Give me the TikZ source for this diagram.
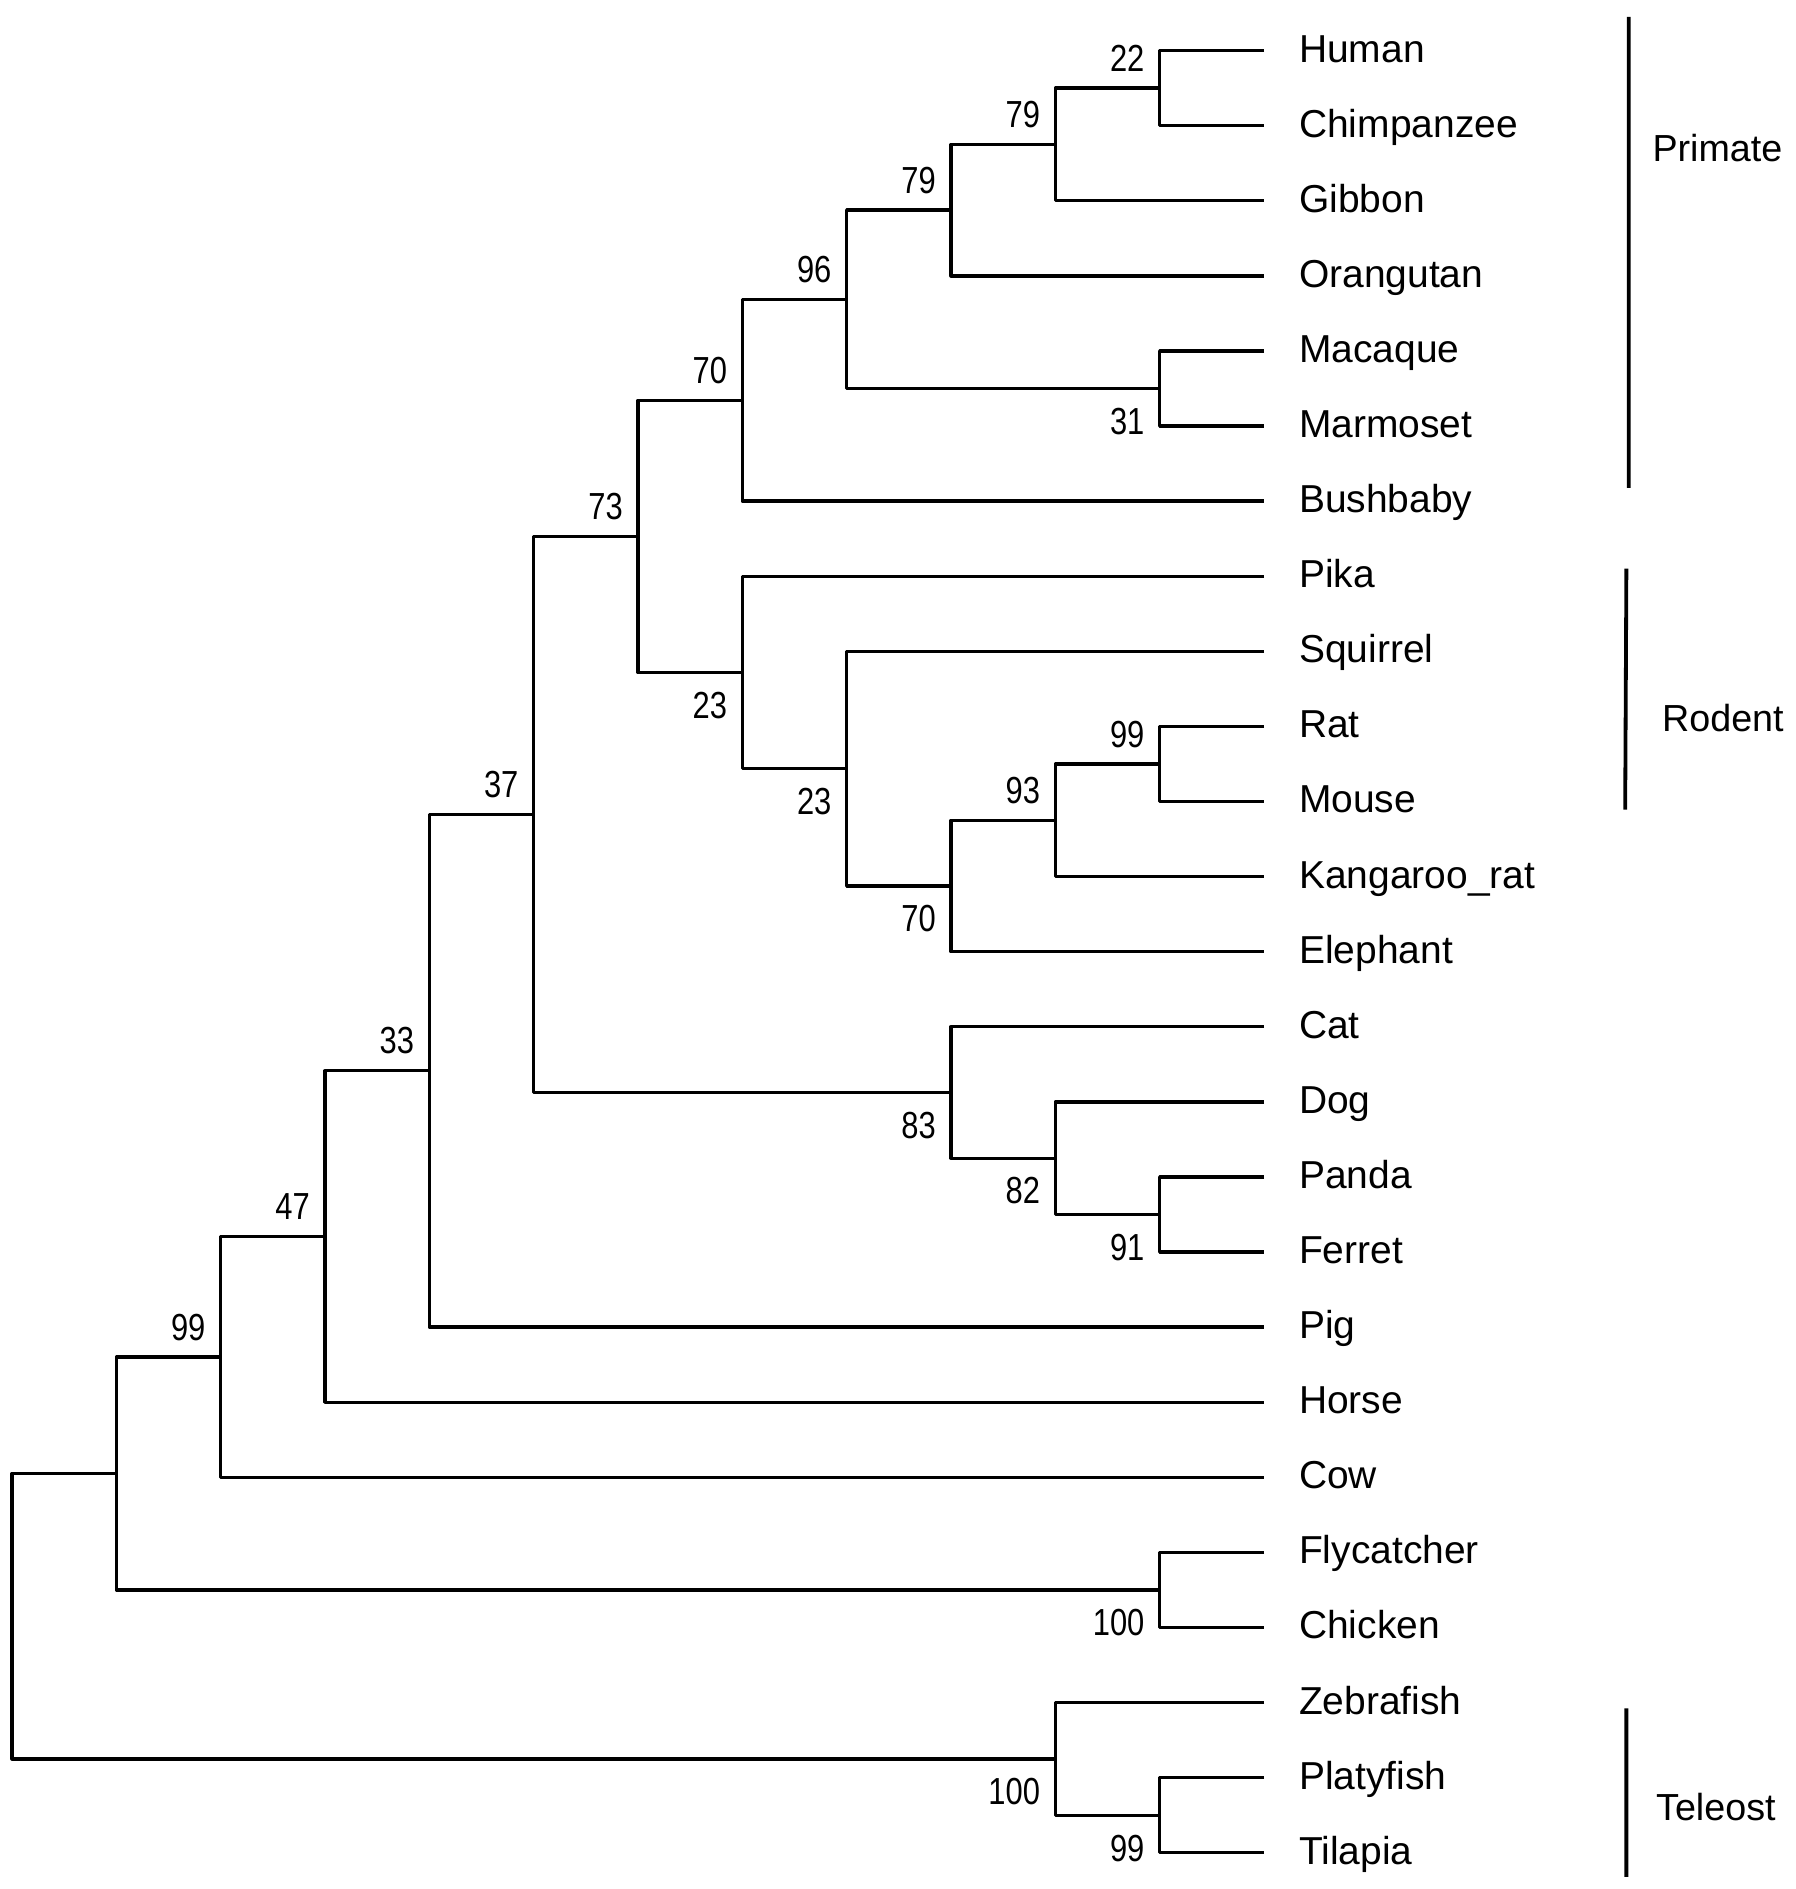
\documentclass[tikz,border=0pt]{standalone}
\usepackage{fontspec}
\setmainfont{Liberation Sans}
\newfontfamily\bootfont[FakeStretch=0.82]{Liberation Sans}
\usetikzlibrary{calc}
\begin{document}
\begin{tikzpicture}[line join=round,
  branch/.style={line width=0.8pt},
  bracket/.style={line width=0.9pt},
  taxon/.style={anchor=base west,inner sep=0pt,font=\fontsize{9.2}{11}\selectfont},
  boot/.style={anchor=base east,inner sep=0pt,font=\bootfont\fontsize{8.9}{10}\selectfont},
  group/.style={anchor=base west,inner sep=0pt,font=\fontsize{8.9}{11}\selectfont}]
	%==settings (1 unit = 100 px of the figure)
	\def\dx{0.866}
	\def\dy{0.6233}
	\def\xo{0.10}
	\def\yo{-0.42}
	\def\hi{.14}
	\def\lo{-.38}
	%==============
	\def\junc#1#2#3#4{\path ($(#3)!.5!(#4)$) coordinate (m#1);
		\coordinate (#1) at (x#2 |- m#1);
		\draw[branch] (#3) -| (#1) |- (#4);}
	\def\bs#1#2#3{\node[boot] (b#1) at ([shift={(-.12,#3)}]#1) {#2};}
	\useasboundingbox (0,0) rectangle (14.90,-15.68);
	\foreach \k in {0,...,12}{\coordinate (x\k) at ({\xo+\k*\dx},0);}
	\foreach \t [count=\i from 0] in {Human,Chimpanzee,Gibbon,Orangutan,Macaque,Marmoset,Bushbaby,Pika,Squirrel,Rat,Mouse,Kangaroo\_rat,Elephant,Cat,Dog,Panda,Ferret,Pig,Horse,Cow,Flycatcher,Chicken,Zebrafish,Platyfish,Tilapia}{
		\coordinate (l\i) at ({\xo+12*\dx},{\yo-\i*\dy});
		\node[taxon] (t\i) at ([xshift=.285cm,yshift=-.095cm]l\i) {\t};}
	\junc{hc}{11}{l0}{l1} \bs{hc}{22}{\hi}
	\junc{hcg}{10}{hc}{l2} \bs{hcg}{79}{\hi}
	\junc{ape}{9}{hcg}{l3} \bs{ape}{79}{\hi}
	\junc{mm}{11}{l4}{l5} \bs{mm}{31}{\lo}
	\junc{anth}{8}{ape}{mm} \bs{anth}{96}{\hi}
	\junc{prim}{7}{anth}{l6} \bs{prim}{70}{\hi}
	\junc{rm}{11}{l9}{l10} \bs{rm}{99}{\hi}
	\junc{rmk}{10}{rm}{l11} \bs{rmk}{93}{\hi}
	\junc{rmke}{9}{rmk}{l12} \bs{rmke}{70}{\lo}
	\junc{sq}{8}{l8}{rmke} \bs{sq}{23}{\lo}
	\junc{glir}{7}{l7}{sq} \bs{glir}{23}{\lo}
	\junc{euar}{6}{prim}{glir} \bs{euar}{73}{\hi}
	\junc{pf}{11}{l15}{l16} \bs{pf}{91}{\lo}
	\junc{dpf}{10}{l14}{pf} \bs{dpf}{82}{\lo}
	\junc{carn}{9}{l13}{dpf} \bs{carn}{83}{\lo}
	\junc{bor}{5}{euar}{carn} \bs{bor}{37}{\hi}
	\junc{pig}{4}{bor}{l17} \bs{pig}{33}{\hi}
	\junc{hor}{3}{pig}{l18} \bs{hor}{47}{\hi}
	\junc{mamm}{2}{hor}{l19} \bs{mamm}{99}{\hi}
	\junc{bird}{11}{l20}{l21} \bs{bird}{100}{\lo}
	\junc{amn}{1}{mamm}{bird}
	\junc{pt}{11}{l23}{l24} \bs{pt}{99}{\lo}
	\junc{fish}{10}{l22}{pt} \bs{fish}{100}{\lo}
	\junc{root}{0}{amn}{fish}
	%==groups
	\coordinate (pa) at (13.52,-.14); \coordinate (pb) at (13.52,-4.05);
	\coordinate (ra) at (13.50,-4.72); \coordinate (rb) at (13.49,-6.72);
	\coordinate (ta) at (13.50,-14.18); \coordinate (tb) at (13.50,-15.58);
	\draw[bracket] (pa)--(pb) (ra)--(rb) (ta)--(tb);
	\node[group] (gp) at (13.71,-1.34) {Primate};
	\node[group] (gr) at (13.79,-6.07) {Rodent};
	\node[group] (gt) at (13.74,-15.11) {Teleost};
\end{tikzpicture}
\end{document}
